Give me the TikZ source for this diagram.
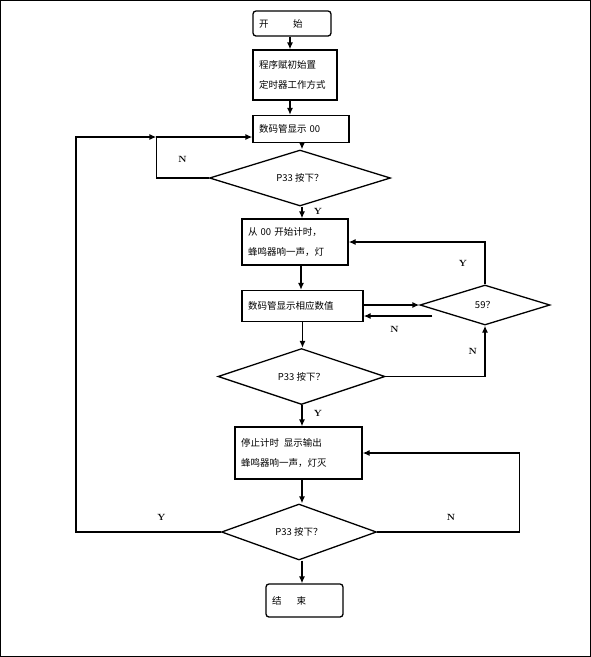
\documentclass[tikz,border=0pt]{standalone}
\usepackage{fontspec}
\newfontfamily\cjk{Noto Sans CJK SC}
\usetikzlibrary{shapes.geometric, positioning, arrows.meta, calc}

\begin{document}
\begin{tikzpicture}[x=1pt, y=-1pt, line width=1.3pt, >={Latex[length=7pt,width=6pt]},
    box/.style={draw, rectangle, inner xsep=6pt, inner ysep=0pt, align=left,
                font=\cjk\fontsize{9.5}{20}\selectfont},
    term/.style={box, rounded corners=3pt},
    decision/.style={draw, diamond, inner sep=0pt, font=\cjk\fontsize{9.5}{12}\selectfont},
    lab/.style={font=\bfseries\small}]
    \useasboundingbox (0,0) rectangle (591,657);
    \draw[line width=0.8pt] (0.5,0.5) rectangle (590.5,656.5);

    \node[term, text width=66pt, minimum height=25pt] (start) at (292,23.5) {开\hspace{2.6em}始};
    \node[box, text width=72pt, minimum height=50pt] (init) at (295,75) {程序赋初始置\\定时器工作方式};
    \node[box, text width=84pt, minimum height=27pt] (disp0) at (301,129) {数码管显示 00};
    \node[decision, minimum width=181pt, minimum height=41pt] (p33a) at (300,178) {P33 按下？};
    \node[box, text width=94pt, minimum height=46pt] (count) at (295,242) {从 00 开始计时，\\蜂鸣器响一声，灯};
    \node[box, text width=109pt, minimum height=31pt] (disp) at (302.5,306) {数码管显示相应数值};
    \node[decision, minimum width=130pt, minimum height=40pt] (s59) at (485,305) {59？};
    \node[decision, minimum width=167pt, minimum height=43pt] (p33b) at (301.5,376.5) {P33 按下？};
    \node[box, text width=115pt, minimum height=52pt] (stop) at (298.5,453) {停止计时\enspace 显示输出\\蜂鸣器响一声，灯灭};
    \node[decision, minimum width=155pt, minimum height=42pt] (p33c) at (299,532) {P33 按下？};
    \node[term, text width=65pt, minimum height=33pt] (finish) at (304.5,600.5) {结\hspace{1.6em}束};

    \coordinate (join) at ($(disp0.west)+(-96,8)$);
    \coordinate (ret) at ($(s59.west)+(13,11)$);

    % main line
    \draw[->] ([xshift=-2pt]start.south) -- ([xshift=-2pt]start.south |- init.north);
    \draw[->] ([xshift=-5pt]init.south) -- ([xshift=-5pt]init.south |- disp0.north);
    \draw[->] ([xshift=1pt]disp0.south) -- ([xshift=1pt]disp0.south |- p33a.north);
    \draw[->] ([xshift=2pt]p33a.south) -- ([xshift=2pt]p33a.south |- count.north) node[lab, pos=0.4, right=8pt] {Y};
    \draw[->] ([xshift=6pt]count.south) -- ([xshift=6pt]count.south |- disp.north);
    \draw[->] (disp.south) -- (disp.south |- p33b.north);
    \draw[->] ([xshift=0.5pt]p33b.south) -- ([xshift=0.5pt]p33b.south |- stop.north) node[lab, pos=0.4, right=8pt] {Y};
    \draw[->] ([xshift=3.5pt]stop.south) -- ([xshift=3.5pt]stop.south |- p33c.north);
    \draw[->] ([xshift=3pt]p33c.south) -- ([xshift=3pt]p33c.south |- finish.north);

    % loops
    \draw[->] (p33a.west) -| (join) node[lab, pos=0.25, above=12pt] {N} -- (join -| disp0.west);
    \draw[->] (p33c.west) -- node[lab, pos=0.41, above=8pt] {Y} ++(-145,0) |- (join);
    \draw[->] (disp.east |- s59.west) -- (s59.west);
    \draw[->] (ret) -- (ret -| disp.east) node[lab, pos=0.55, below=6pt] {N};
    \draw[->] (s59.north) |- (count.east) node[lab, pos=0.25, left=14pt] {Y};
    \draw[->] (p33b.east) -| (s59.south) node[lab, pos=0.75, left=4pt] {N};
    \draw[->] (p33c.east) -- node[lab, pos=0.52, above=8pt] {N} ++(142,0) |- (stop.east);
\end{tikzpicture}
\end{document}
